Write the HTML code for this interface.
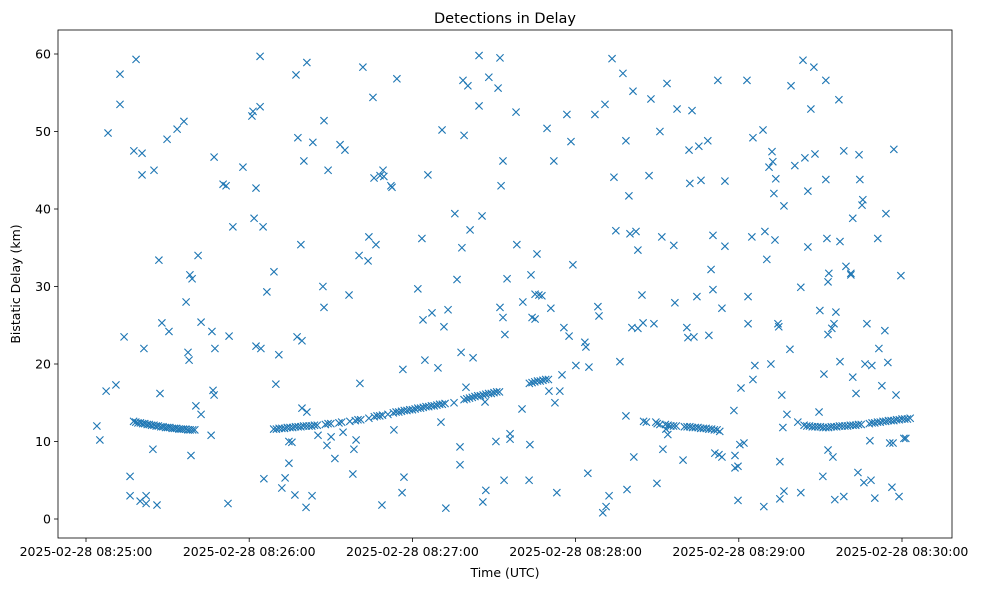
<!DOCTYPE html>
<html><head><meta charset="utf-8"><style>
html,body{margin:0;padding:0;background:#fff;}
svg{display:block;font-family:"DejaVu Sans","Liberation Sans",sans-serif;}
</style></head><body>
<svg id="chart" width="981" height="590" viewBox="0 0 981 590" xmlns="http://www.w3.org/2000/svg">
<rect width="981" height="590" fill="#fff"/>
<text x="505" y="23" text-anchor="middle" font-size="14.5">Detections in Delay</text>
<g id="marks"></g>
<g id="axes"></g>
<text x="505" y="577" text-anchor="middle" font-size="12.5">Time (UTC)</text>
<text transform="translate(20,284) rotate(-90)" text-anchor="middle" font-size="12.5">Bistatic Delay (km)</text>
</svg>
<script>
// seconds after 2025-02-28 08:25:00 UTC
const scatterTimes=[4.0,5.1,7.4,8.1,11.0,12.5,12.5,14.0,16.2,16.2,17.6,18.4,19.9,20.6,20.6,21.3,22.1,22.1,24.6,25.0,26.1,26.8,27.2,27.9,29.8,30.5,33.5,36.0,36.8,37.5,37.9,38.2,39.0,38.6,40.4,41.2,42.3,42.3,46.0,46.3,46.7,47.1,47.1,47.4,50.4,51.5,52.2,52.6,54.0,57.7,61.0,61.4,61.8,62.5,62.5,64.0,64.0,64.3,65.1,65.4,66.5,69.1,69.8,70.9,72.0,73.2,74.6,74.6,75.7,76.8,77.2,77.6,77.9,79.0,79.4,79.4,80.1,80.9,81.2,81.2,83.1,83.4,85.3,87.1,87.5,87.5,88.6,89.0,90.1,91.5,93.4,94.5,95.2,96.7,98.1,98.5,99.3,100.4,100.7,101.8,103.7,104.0,105.5,105.9,106.6,108.1,108.8,109.2,109.5,112.1,112.5,113.2,114.3,116.2,116.5,116.9,122.0,123.5,123.9,124.6,125.7,127.2,129.4,130.5,130.9,131.6,132.3,133.1,135.3,135.6,136.4,137.5,137.5,137.9,138.2,138.6,139.0,139.7,140.4,141.2,142.3,144.5,144.5,145.6,145.9,146.7,147.0,148.1,150.7,151.5,152.2,152.2,152.6,153.3,153.3,153.7,154.0,154.8,155.9,155.9,158.1,158.4,160.3,160.6,162.9,163.2,163.6,164.0,165.1,165.1,165.8,166.5,167.6,169.5,170.2,170.9,172.0,172.4,173.1,174.2,175.0,175.7,176.8,177.6,178.3,179.0,180.1,183.4,183.8,184.5,184.9,187.1,188.2,188.6,190.0,190.8,191.2,192.3,193.4,194.1,194.8,196.3,197.4,198.5,198.5,198.9,199.6,200.0,200.7,201.1,201.4,202.2,202.9,202.9,204.4,204.8,207.0,207.7,208.8,209.5,209.9,211.0,211.7,212.1,213.2,213.6,213.9,216.1,216.5,217.3,219.5,220.9,221.3,221.7,222.0,222.8,223.5,224.6,225.3,226.1,228.6,229.0,229.8,230.5,230.5,231.2,232.3,232.7,233.8,233.8,234.9,234.9,238.2,238.6,238.6,239.7,239.7,240.4,240.8,241.9,243.0,243.4,243.4,244.8,245.2,245.2,245.9,248.9,249.2,249.6,250.3,251.1,251.8,252.2,252.5,252.9,253.3,253.6,254.4,254.7,255.1,255.1,255.8,256.2,256.6,256.6,257.7,258.8,259.2,260.6,261.7,262.8,262.8,263.6,264.3,265.4,265.4,266.5,267.6,268.0,269.5,269.8,270.9,271.3,272.0,272.0,272.4,272.8,272.8,272.8,273.1,274.2,274.6,275.0,275.3,275.7,276.8,277.2,277.2,278.6,278.6,279.4,281.2,281.2,281.9,281.9,283.1,283.8,284.2,284.5,285.3,285.6,286.0,286.4,287.1,288.2,288.6,288.9,290.0,291.1,291.5,292.6,293.7,294.1,294.8,295.5,296.3,296.7,297.0,297.8,298.9,299.6,300.7,301.4];
const scatterDelays=[12,10.2,16.5,49.8,17.3,57.4,53.5,23.5,5.5,3,47.5,59.3,2.3,47.2,44.4,22,3,2,9,45,1.8,33.4,16.2,25.3,49,24.2,50.3,51.3,28,21.5,20.5,31.5,31,8.2,14.6,34,13.5,25.4,10.8,24.2,16.6,16,46.7,22,43.2,43,2,23.6,37.7,45.4,52,52.6,38.8,42.7,22.3,59.7,53.2,22,37.7,5.2,29.3,31.9,17.4,21.2,4,5.3,7.2,10,9.9,3.1,57.3,23.5,49.2,35.4,14.3,23,46.2,1.5,58.9,13.8,3,48.6,10.8,30,51.4,27.3,9.5,45,10.6,7.8,48.3,11.2,47.6,28.9,5.8,9,10.2,34,17.5,58.3,33.3,36.4,54.4,44,35.4,44.3,1.8,45,44.2,43,42.8,11.5,56.8,3.4,19.3,5.4,29.7,36.2,25.7,20.5,44.4,26.6,19.5,12.5,50.2,24.8,1.4,27,15,39.4,30.9,7,9.3,21.5,35,56.6,49.5,17,55.9,37.3,20.8,59.8,53.3,39.1,2.2,15.1,3.7,57,10,55.6,59.5,27.3,43,46.2,26,5,23.8,31,11,10.3,52.5,35.4,14.2,28,5,9.6,31.5,26,25.8,29,34.2,28.9,28.8,50.4,16.5,27.2,46.2,15,3.4,16.5,18.6,24.7,52.2,23.6,48.7,32.8,19.8,22.8,22.2,5.9,19.6,52.2,27.4,26.2,0.8,53.5,1.6,3,59.4,44.1,37.2,20.3,57.5,48.8,13.3,3.8,41.7,36.8,24.7,55.2,8,37.1,34.7,24.6,28.9,25.3,44.3,54.2,25.2,12.5,4.6,50,36.4,9,11.6,56.2,10.9,35.3,27.9,52.9,7.6,24.7,23.4,47.6,43.3,52.7,23.5,28.7,48.1,43.7,48.8,23.7,32.2,29.6,36.6,8.5,56.6,8.3,27.2,8,35.2,43.6,14,8.2,6.6,2.4,6.8,9.6,16.9,9.8,56.6,28.7,25.2,36.4,49.2,18,19.8,50.2,1.6,37.1,33.5,45.4,20,47.4,46.1,42,36,43.9,25.2,24.8,2.6,7.4,16,11.8,3.6,40.4,13.5,21.9,55.9,45.6,12.5,3.4,29.9,59.2,46.6,35.1,42.3,52.9,58.3,47.1,13.8,26.9,5.5,18.7,56.6,43.8,36.2,8.9,23.8,30.6,31.7,24.6,8,25.2,2.5,26.7,54.1,20.3,35.8,2.9,47.5,32.6,31.7,31.5,18.3,38.8,16.2,6,47,43.8,40.5,41.2,4.7,20,25.2,10.1,5,19.8,2.7,36.2,22,17.2,24.3,39.4,20.2,9.8,4.1,9.8,47.7,16,2.9,31.4,10.4,10.4];
const trackTimes=[17.5,18.3,19.1,20,20.8,21.6,22.5,23.3,24.1,25,25.8,26.6,27.5,28.3,29.2,30,30.8,31.7,32.5,33.3,34.2,35,35.8,36.7,37.5,38.3,39.2,40,
69,70,71,72,73,74,75,76,77,78,79,80,81,82,83,84,85,88,89,90,93,94,97,99,100,101,104,106,107,108,109,111,113,114,115,116,117,118,119,120,121,122,123,124,125,126,127,128,129,130,131,132,
139,140,141,142,143,144,145,146,147,148,149,150,151,152,163,164,165,166,167,168,169,170,
205,206,210,211,213,214,215,216,217,220,221,222,223,224,225,226,227,228,229,230,231,232,233,
264,265,266,267,268,269,270,271,272,273,274,275,276,277,278,279,280,281,282,283,284,285,
288,289,290,291,292,293,294,295,296,297,298,299,300,301,302,303];
const trackDelays=[12.6,12.5,12.4,12.4,12.3,12.3,12.2,12.2,12.1,12.1,12.0,12.0,11.9,11.9,11.8,11.8,11.8,11.7,11.7,11.7,11.6,11.6,11.6,11.6,11.5,11.5,11.5,11.5,
11.6,11.6,11.7,11.7,11.7,11.8,11.8,11.8,11.9,11.9,11.9,12.0,12.0,12.0,12.0,12.1,12.1,12.2,12.3,12.3,12.4,12.5,12.6,12.7,12.8,12.8,13.0,13.2,13.3,13.3,13.4,13.5,13.7,13.8,13.8,13.9,14.0,14.0,14.1,14.1,14.2,14.3,14.3,14.4,14.5,14.5,14.6,14.6,14.7,14.8,14.8,14.9,
15.4,15.5,15.6,15.7,15.8,15.9,15.9,16.0,16.1,16.2,16.2,16.3,16.4,16.4,17.5,17.6,17.7,17.8,17.8,17.9,18.0,18.0,
12.6,12.5,12.3,12.2,12.2,12.1,12.0,12.0,12.0,11.9,11.9,11.9,11.8,11.8,11.8,11.7,11.7,11.7,11.6,11.6,11.5,11.5,11.3,
12.1,12.0,12.0,11.9,11.9,11.9,11.9,11.8,11.8,11.8,11.9,11.9,11.9,12.0,12.0,12.0,12.0,12.1,12.1,12.1,12.2,12.2,
12.3,12.4,12.4,12.5,12.5,12.6,12.6,12.7,12.7,12.7,12.8,12.8,12.9,12.9,12.9,13.0];
const xTickValues=[0,60,120,180,240,300];
const xTickLabels=["2025-02-28 08:25:00","2025-02-28 08:26:00","2025-02-28 08:27:00","2025-02-28 08:28:00","2025-02-28 08:29:00","2025-02-28 08:30:00"];
const yTickValues=[0,10,20,30,40,50,60];

const NS="http://www.w3.org/2000/svg";
const L=58,R=952,T=30,B=538;
const xScale=t=>86+t*(163.2/60);
const yScale=v=>519-v*7.75;
function mk(tag,attrs,parent){const e=document.createElementNS(NS,tag);for(const k in attrs)e.setAttribute(k,attrs[k]);parent.appendChild(e);return e;}
const marks=document.getElementById('marks');
const axes=document.getElementById('axes');
function drawX(t,v,name){
  const x=xScale(t),y=yScale(v),s=3.6;
  const p=mk('path',{d:`M${x-s},${y-s}L${x+s},${y+s}M${x-s},${y+s}L${x+s},${y-s}`,stroke:'#1f77b4','stroke-width':1.1,fill:'none'},marks);
  
  
}
for(let i=0;i<scatterTimes.length;i++) drawX(scatterTimes[i],scatterDelays[i],'detection-point');
for(let i=0;i<trackTimes.length;i++) drawX(trackTimes[i],trackDelays[i],'track-point');
const frame=mk('rect',{x:L,y:T,width:R-L,height:B-T,fill:'none',stroke:'#000','stroke-width':0.8},axes);


for(let i=0;i<xTickValues.length;i++){
  const x=xScale(xTickValues[i]);
  const tk=mk('line',{x1:x,x2:x,y1:B,y2:B+4,stroke:'#000','stroke-width':0.8},axes);
  
  
  const tx=mk('text',{x:x,y:B+18,'text-anchor':'middle','font-size':12.5},axes);
  tx.textContent=xTickLabels[i];
  
  
}
for(const v of yTickValues){
  const y=yScale(v);
  const tk=mk('line',{x1:L-4,x2:L,y1:y,y2:y,stroke:'#000','stroke-width':0.8},axes);
  
  
  const tx=mk('text',{x:L-7,y:y+4.5,'text-anchor':'end','font-size':12.5},axes);
  tx.textContent=String(v);
  
  
}
</script>
</body></html>
